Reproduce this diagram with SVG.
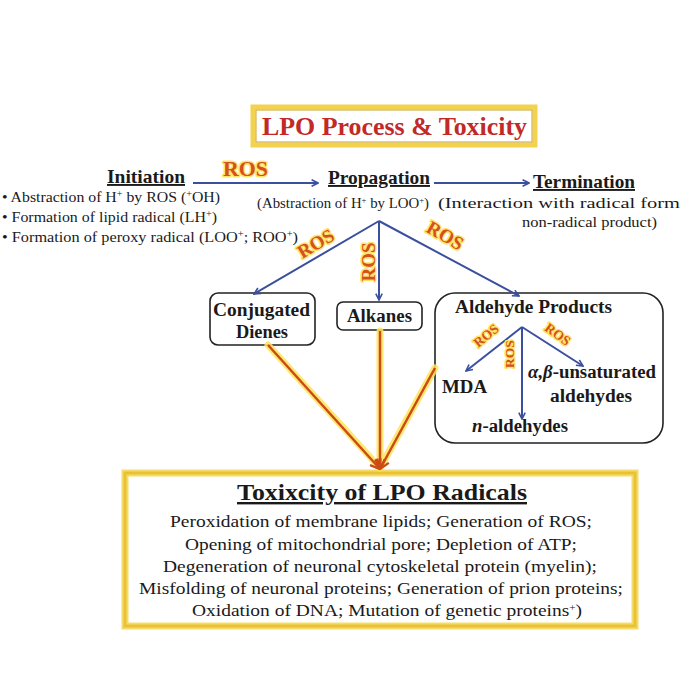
<svg xmlns="http://www.w3.org/2000/svg" width="700" height="700" viewBox="0 0 700 700">
<style>
text,tspan{font-family:'Liberation Serif','Times New Roman',serif !important}
.h{font-weight:bold;font-size:19px;text-decoration:underline;fill:#1a1a1a}
.s{font-size:15.5px;fill:#1a1a1a}
.b{font-weight:bold;font-size:18.5px;fill:#1a1a1a}
.ros{font-weight:bold;fill:#d4501e;stroke:#ffe46a;stroke-width:3px;paint-order:stroke;stroke-linejoin:round}
.blue{stroke:#3a4f9e;stroke-width:2;fill:none}
.glow{stroke:#ffe45a;stroke-width:7;fill:none;stroke-linecap:round;opacity:0.85}
.org{stroke:#cc4a14;stroke-width:2.5;fill:none}
.box{fill:#fff;stroke:#222;stroke-width:1.6}
.tx{font-size:17.5px;fill:#1a1a1a}
</style>
<defs>
<marker id="ab" viewBox="0 0 10 10" refX="9" refY="5" markerWidth="8" markerHeight="8" orient="auto" markerUnits="userSpaceOnUse"><path d="M1,1 L9,5 L1,9" fill="none" stroke="#3a4f9e" stroke-width="2"/></marker>
<marker id="ao" viewBox="0 0 10 10" refX="9" refY="5" markerWidth="12" markerHeight="12" orient="auto" markerUnits="userSpaceOnUse"><path d="M1,1 L9,5 L1,9" fill="none" stroke="#cc4a14" stroke-width="2"/></marker>
</defs>
<rect width="700" height="700" fill="#fff"/>

<g id="title">
<rect x="253" y="107" width="282" height="38" fill="#fff" stroke="#f3d24e" stroke-width="5"/>
<rect x="256" y="110" width="276" height="32" fill="none" stroke="#c9a430" stroke-width="1"/>
<text x="262" y="135" textLength="265" lengthAdjust="spacingAndGlyphs" font-family="Liberation Serif" font-weight="bold" font-size="25" fill="#c12a26">LPO Process &amp; Toxicity</text>
</g>

<g id="initiation">
<text class="h" font-family="Liberation Serif" x="107" y="183" textLength="78" lengthAdjust="spacingAndGlyphs">Initiation</text>
<text class="s" font-family="Liberation Serif" x="2" y="202" textLength="218" lengthAdjust="spacingAndGlyphs">• Abstraction of H<tspan font-size="10" baseline-shift="super">+</tspan> by ROS (<tspan font-size="10" baseline-shift="super">+</tspan>OH)</text>
<text class="s" font-family="Liberation Serif" x="2" y="222" textLength="215" lengthAdjust="spacingAndGlyphs">• Formation of lipid radical (LH<tspan font-size="10" baseline-shift="super">+</tspan>)</text>
<text class="s" font-family="Liberation Serif" x="2" y="242" textLength="296" lengthAdjust="spacingAndGlyphs">• Formation of peroxy radical (LOO<tspan font-size="10" baseline-shift="super">+</tspan>; ROO<tspan font-size="10" baseline-shift="super">+</tspan>)</text>
</g>

<g id="propagation">
<text class="h" font-family="Liberation Serif" x="328" y="184" textLength="102" lengthAdjust="spacingAndGlyphs">Propagation</text>
<text class="s" font-family="Liberation Serif" x="257" y="208" textLength="172" lengthAdjust="spacingAndGlyphs">(Abstraction of H<tspan font-size="9" baseline-shift="super">+</tspan> by LOO<tspan font-size="9" baseline-shift="super">+</tspan>)</text>
</g>

<g id="termination">
<text class="h" font-family="Liberation Serif" x="533" y="188" textLength="102" lengthAdjust="spacingAndGlyphs">Termination</text>
<text class="s" font-family="Liberation Serif" x="438" y="208" textLength="242" lengthAdjust="spacingAndGlyphs">(Interaction with radical form</text>
<text class="s" font-family="Liberation Serif" x="522" y="227" textLength="135" lengthAdjust="spacingAndGlyphs">non-radical product)</text>
</g>

<g id="conjugated-dienes">
<rect class="box" x="210" y="293" width="105" height="52" rx="8"/>
<text class="b" font-family="Liberation Serif" x="213" y="316" textLength="97" lengthAdjust="spacingAndGlyphs">Conjugated</text>
<text class="b" font-family="Liberation Serif" x="236" y="338" textLength="52" lengthAdjust="spacingAndGlyphs">Dienes</text>
</g>

<g id="alkanes">
<rect class="box" x="337" y="302" width="85" height="28" rx="6"/>
<text class="b" font-family="Liberation Serif" x="347" y="322" textLength="65" lengthAdjust="spacingAndGlyphs">Alkanes</text>
</g>

<g id="aldehyde-products">
<rect class="box" x="435" y="293" width="228" height="150" rx="20"/>
<text class="b" font-family="Liberation Serif" x="455" y="313" textLength="157" lengthAdjust="spacingAndGlyphs">Aldehyde Products</text>
<text class="b" font-family="Liberation Serif" x="442" y="393" textLength="45" lengthAdjust="spacingAndGlyphs">MDA</text>
<text class="b" font-family="Liberation Serif" x="528" y="378" textLength="128" lengthAdjust="spacingAndGlyphs"><tspan font-style="italic">α,β</tspan>-unsaturated</text>
<text class="b" font-family="Liberation Serif" x="550" y="402" textLength="82" lengthAdjust="spacingAndGlyphs">aldehydes</text>
<text class="b" font-family="Liberation Serif" x="472" y="432" textLength="96" lengthAdjust="spacingAndGlyphs"><tspan font-style="italic">n</tspan>-aldehydes</text>
<path class="blue" d="M522,327 L466,371" marker-end="url(#ab)"/>
<path class="blue" d="M522,327 L522,419" marker-end="url(#ab)"/>
<path class="blue" d="M522,327 L583,366" marker-end="url(#ab)"/>
<text class="ros" font-family="Liberation Serif" font-size="13.5" transform="translate(489,339) rotate(-40)" text-anchor="middle">ROS</text>
<text class="ros" font-family="Liberation Serif" font-size="13.5" transform="translate(514,354) rotate(-90)" text-anchor="middle">ROS</text>
<text class="ros" font-family="Liberation Serif" font-size="13.5" transform="translate(555,338) rotate(36)" text-anchor="middle">ROS</text>
</g>

<g id="toxicity">
<rect x="125" y="473" width="510" height="153" fill="#fff" stroke="#f5dc6a" stroke-width="7"/>
<rect x="125" y="473" width="510" height="153" fill="none" stroke="#e8c233" stroke-width="3"/>
<text font-family="Liberation Serif" x="237" y="500" textLength="290" lengthAdjust="spacingAndGlyphs" font-weight="bold" font-size="24" text-decoration="underline" fill="#1a1a1a">Toxixcity of LPO Radicals</text>
<text class="tx" font-family="Liberation Serif" x="170" y="527" textLength="422" lengthAdjust="spacingAndGlyphs">Peroxidation of membrane  lipids; Generation of ROS;</text>
<text class="tx" font-family="Liberation Serif" x="185" y="550" textLength="392" lengthAdjust="spacingAndGlyphs">Opening of mitochondrial pore; Depletion of ATP;</text>
<text class="tx" font-family="Liberation Serif" x="163" y="572" textLength="434" lengthAdjust="spacingAndGlyphs">Degeneration of neuronal cytoskeletal protein (myelin);</text>
<text class="tx" font-family="Liberation Serif" x="139" y="594" textLength="484" lengthAdjust="spacingAndGlyphs">Misfolding of neuronal proteins; Generation of prion proteins;</text>
<text class="tx" font-family="Liberation Serif" x="192" y="616" textLength="390" lengthAdjust="spacingAndGlyphs">Oxidation of DNA; Mutation of genetic proteins<tspan font-size="10" baseline-shift="super">+</tspan>)</text>
</g>

<g id="connectors">
<path class="blue" d="M193,183 L318,183" marker-end="url(#ab)"/>
<text class="ros" font-family="Liberation Serif" font-size="22" x="223" y="176" textLength="45" lengthAdjust="spacingAndGlyphs">ROS</text>
<path class="blue" d="M434,183 L529,183" marker-end="url(#ab)"/>
<path class="blue" d="M379,221 L254,294" marker-end="url(#ab)"/>
<path class="blue" d="M379,221 L379,300" marker-end="url(#ab)"/>
<path class="blue" d="M379,221 L519,296" marker-end="url(#ab)"/>
<text class="ros" font-family="Liberation Serif" font-size="19" transform="translate(319,249) rotate(-31)" text-anchor="middle">ROS</text>
<text class="ros" font-family="Liberation Serif" font-size="19" transform="translate(375,262) rotate(-90)" text-anchor="middle">ROS</text>
<text class="ros" font-family="Liberation Serif" font-size="19" transform="translate(442,241) rotate(30)" text-anchor="middle">ROS</text>
<path class="glow" d="M268,345 L380,468 M380,331 L380,468 M435,368 L380,468"/>
<path class="org" d="M268,345 L380,469" marker-end="url(#ao)"/>
<path class="org" d="M380,331 L380,469" marker-end="url(#ao)"/>
<path class="org" d="M435,368 L380,469" marker-end="url(#ao)"/>
</g>
</svg>
